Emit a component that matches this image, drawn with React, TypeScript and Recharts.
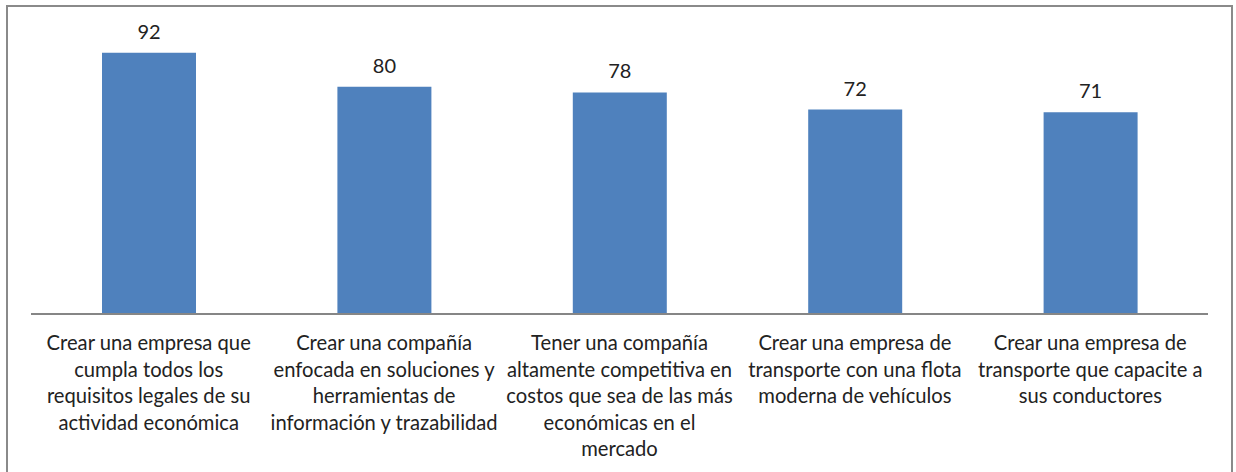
import React from 'react';
import { BarChart, Bar, XAxis, YAxis, LabelList } from 'recharts';

// Category labels, already broken into the lines shown under each bar
const categories: string[] = [
  'Crear una empresa que\ncumpla todos los\nrequisitos legales de su\nactividad económica',
  'Crear una compañía\nenfocada en soluciones y\nherramientas de\ninformación y trazabilidad',
  'Tener una compañía\naltamente competitiva en\ncostos que sea de las más\neconómicas en el\nmercado',
  'Crear una empresa de\ntransporte con una flota\nmoderna de vehículos',
  'Crear una empresa de\ntransporte que capacite a\nsus conductores',
];
const values: number[] = [92, 80, 78, 72, 71];

const data = categories.map((name, i) => ({ name, value: values[i] }));

const FONT = 'Lato, "Open Sans", sans-serif';
const TEXT = '#222';

// Multi-line category tick
const WrappedTick = (props: any) => {
  const { x, y, payload } = props;
  const lines: string[] = String(payload.value).split('\n');
  return (
    <text x={x} y={y} textAnchor="middle" fontFamily={FONT} fontSize={20.2} fill={TEXT}>
      {lines.map((line, i) => (
        <tspan key={i} x={x} y={y + 28 + i * 26.6}>
          {line}
        </tspan>
      ))}
    </text>
  );
};

const App: React.FC = () => (
  <div style={{ position: 'absolute', left: 0, top: 0, width: 1236, height: 472, background: '#fff' }}>
    {/* outer frame, open at the bottom edge of the picture */}
    <div
      style={{
        position: 'absolute',
        left: 6,
        top: 5,
        width: 1227,
        height: 480,
        border: '2px solid #8a8a8a',
        boxSizing: 'border-box',
      }}
    />
    <BarChart
      width={1236}
      height={472}
      data={data}
      margin={{ top: 30, right: 28, bottom: 0, left: 31 }}
      style={{ position: 'absolute', left: 0, top: 0 }}
    >
      <XAxis
        dataKey="name"
        axisLine={{ stroke: '#868686', strokeWidth: 2 }}
        tickLine={false}
        tick={<WrappedTick />}
        interval={0}
        height={158}
      />
      <YAxis hide domain={[0, 100]} width={0} />
      <Bar dataKey="value" fill="#4F81BD" barSize={94} isAnimationActive={false}>
        <LabelList
          dataKey="value"
          position="top"
          offset={14}
          fontFamily={FONT}
          fontSize={20}
          fill={TEXT}
        />
      </Bar>
    </BarChart>
  </div>
);

export default App;
